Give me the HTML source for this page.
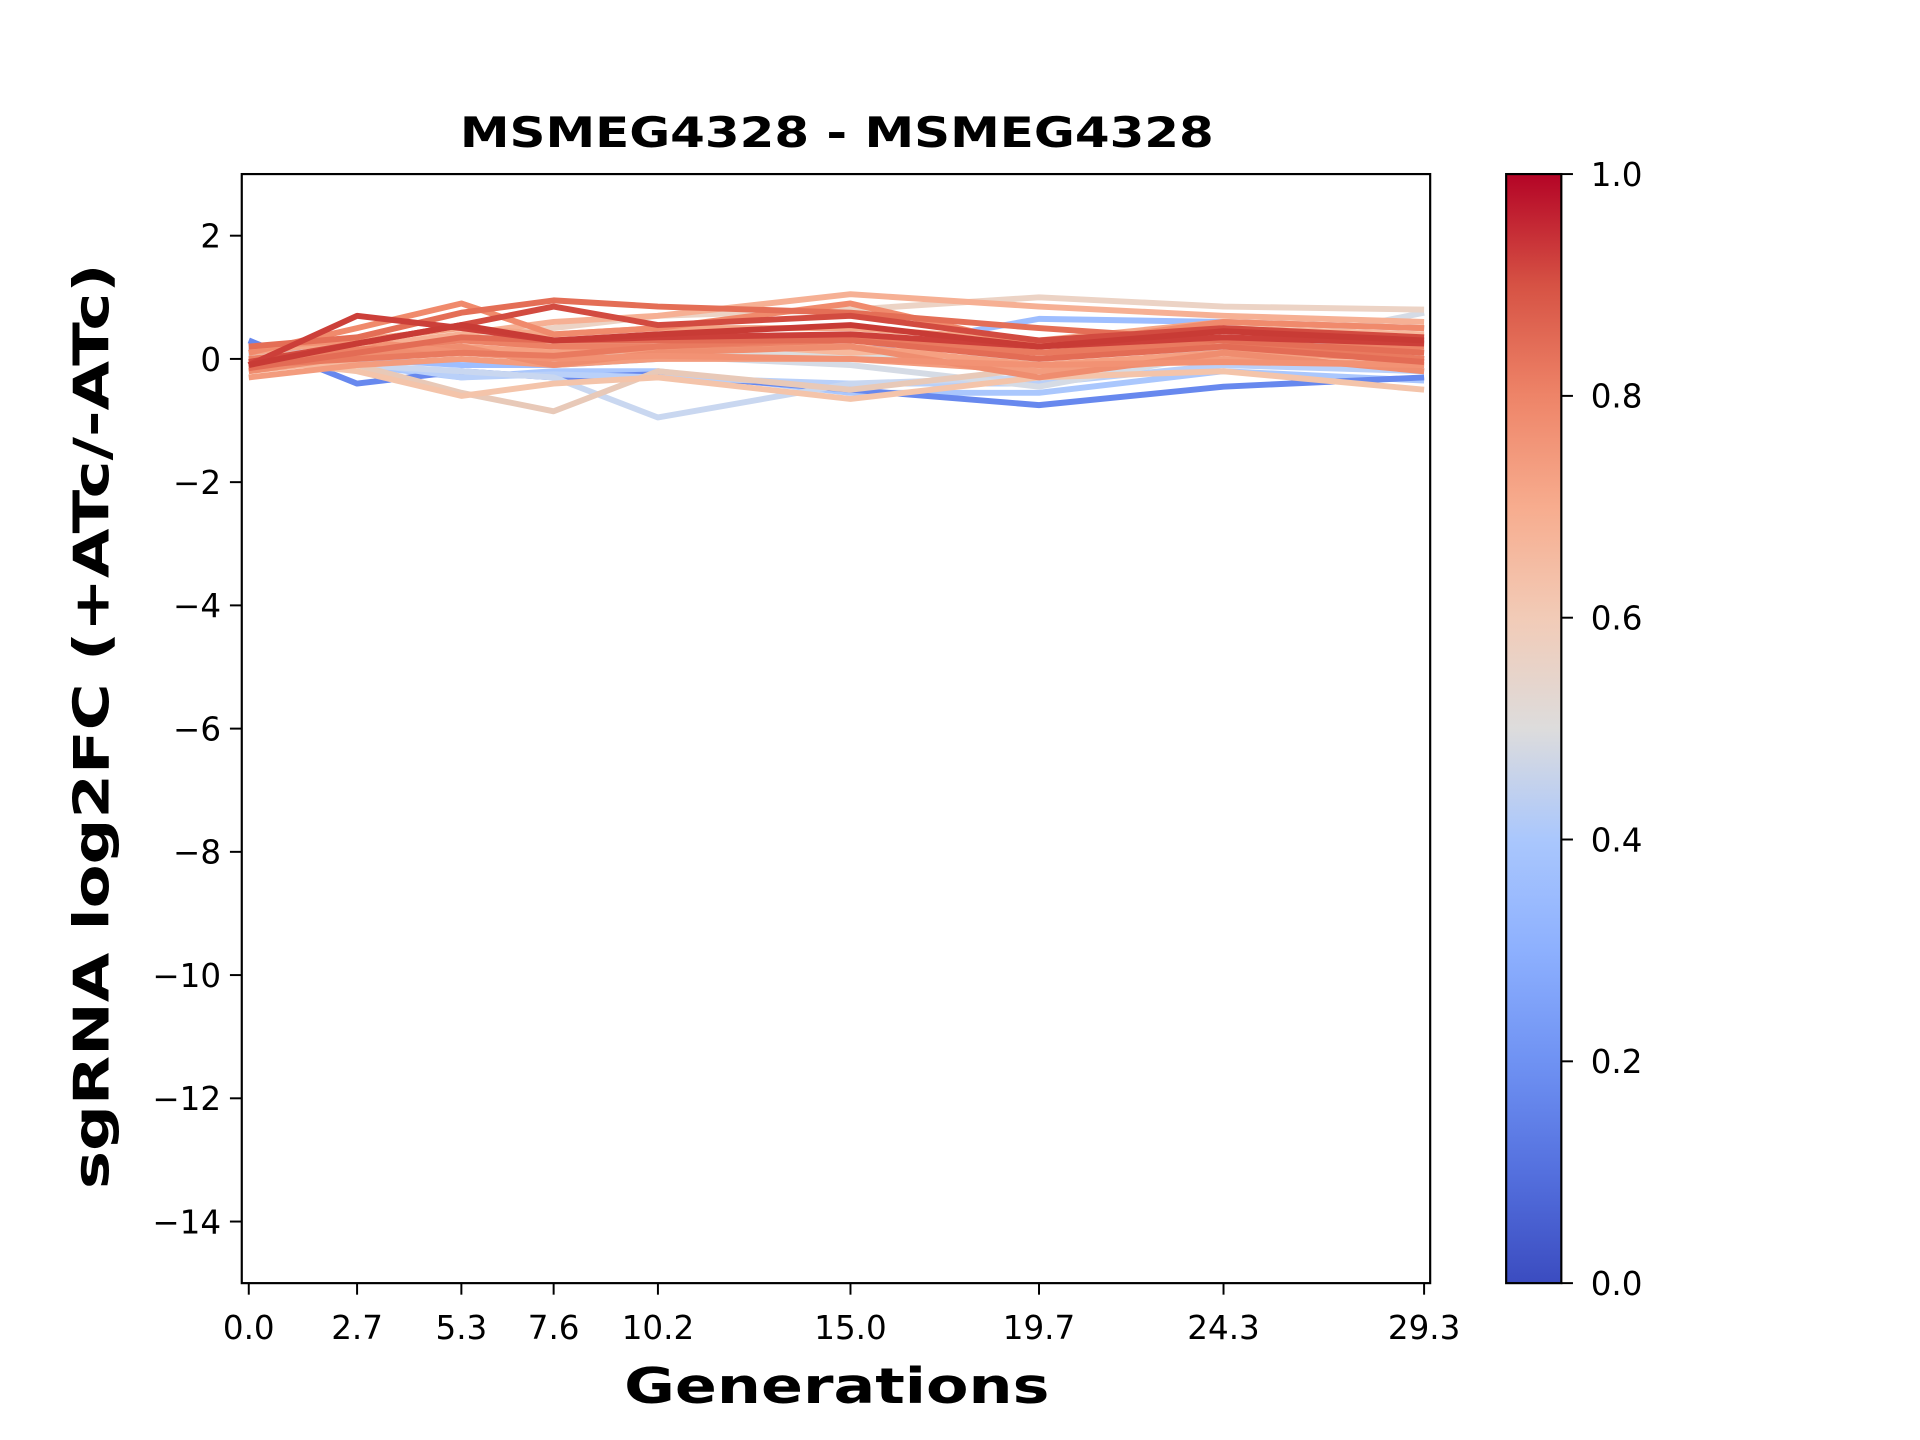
<!DOCTYPE html>
<html><head><meta charset="utf-8"><style>html,body{margin:0;padding:0;background:#fff}svg{display:block}</style></head>
<body>
<svg width="1920" height="1440" viewBox="0 0 1920 1440" xmlns="http://www.w3.org/2000/svg" font-family="'DejaVu Sans','Liberation Sans',sans-serif">
<defs>
<linearGradient id="cw" x1="0" y1="1" x2="0" y2="0">
<stop offset="0" stop-color="#3b4cc0"/><stop offset="0.1" stop-color="#5470de"/><stop offset="0.2" stop-color="#6f92f3"/><stop offset="0.3" stop-color="#8db0fe"/><stop offset="0.4" stop-color="#aac7fd"/><stop offset="0.5" stop-color="#dddcdc"/><stop offset="0.6" stop-color="#f2cbb7"/><stop offset="0.7" stop-color="#f7ac8e"/><stop offset="0.8" stop-color="#ee8468"/><stop offset="0.9" stop-color="#d65244"/><stop offset="1" stop-color="#b40426"/>
</linearGradient>
<clipPath id="ax"><rect x="245" y="176" width="1204" height="1124"/></clipPath>
</defs>
<g transform="scale(0.9868)">
<text x="848" y="149" font-size="42" font-weight="bold" text-anchor="middle" textLength="764" lengthAdjust="spacingAndGlyphs">MSMEG4328 - MSMEG4328</text>
<g id="lines" clip-path="url(#ax)" fill="none" stroke-width="6" stroke-linejoin="round"></g>
<rect x="245" y="176.4" width="1204.3" height="1123.9" fill="none" stroke="#000" stroke-width="2.2"/>
<g id="ticks" stroke="#000" stroke-width="2"></g>
<g id="labels" font-size="33"></g>
<text x="848" y="1422" font-size="50" font-weight="bold" text-anchor="middle" textLength="431" lengthAdjust="spacingAndGlyphs">Generations</text>
<text transform="translate(110,736) rotate(-90)" font-size="50" font-weight="bold" text-anchor="middle" textLength="938" lengthAdjust="spacingAndGlyphs">sgRNA log2FC (+ATc/-ATc)</text>
<rect x="1526.3" y="176.4" width="55.9" height="1123.9" fill="url(#cw)" stroke="#000" stroke-width="2.2"/>
</g>
</svg>
<script>
const ns="http://www.w3.org/2000/svg";
const X=[0,2.7,5.3,7.6,10.2,15,19.7,24.3,29.3];
const px=x=>252.1+x*40.65, py=y=>176.4+(3-y)*62.44;
const S=[
["#aac7fd",[0.1,-0.1,-0.3,-0.2,-0.2,-0.55,-0.55,-0.2,-0.35]],
["#6788ee",[0.3,-0.4,-0.2,-0.3,-0.25,-0.5,-0.75,-0.45,-0.3]],
["#9ebeff",[0.2,0,-0.1,-0.1,0,0.1,0.65,0.6,0.5]],
["#b9d0f9",[0.1,-0.05,-0.3,-0.25,-0.3,-0.4,-0.4,-0.1,-0.2]],
["#c9d7f0",[0,-0.1,-0.2,-0.3,-0.95,-0.4,-0.3,0.2,0.3]],
["#d5dbe5",[0.05,0,0.1,0,0.05,-0.1,-0.45,0.1,0.75]],
["#dcdddd",[0,0.1,0.15,0.1,0.1,0.05,0,0.2,0.1]],
["#e8c9b8",[0,-0.1,-0.55,-0.85,-0.2,-0.5,-0.15,0.1,0.3]],
["#f4c4aa",[0,-0.2,-0.6,-0.4,-0.3,-0.65,-0.3,-0.2,-0.5]],
["#ecd3c5",[0,0.1,0.3,0.5,0.7,0.8,1.0,0.85,0.8]],
["#f6b094",[0,0.2,0.4,0.6,0.7,1.05,0.85,0.7,0.6]],
["#f7b89c",[-0.2,0,0.1,0.2,0.3,0.1,0.2,0.5,0.4]],
["#f5a081",[-0.1,0.1,0.2,0.1,0.15,0.2,-0.1,0.1,0]],
["#f39c7e",[-0.3,-0.1,0,-0.1,0,0,-0.2,0,-0.1]],
["#f4a687",[0.1,0.3,0.5,0.4,0.5,0.5,0.3,0.6,0.5]],
["#f08a6c",[0.1,0.5,0.9,0.4,0.5,0.9,0.2,0.6,0.5]],
["#ef8d6f",[-0.2,0.05,0.2,-0.1,0.1,0.2,-0.3,0.1,-0.2]],
["#ec8165",[0,0.15,0.3,0.2,0.2,0.3,0.1,0.2,0.2]],
["#f29274",[0.2,0.3,0.1,0,0.05,0,-0.1,-0.05,-0.1]],
["#e97a5f",[-0.1,0,0.1,0.05,0.2,0.35,0.1,0.3,0]],
["#e46e56",[0.2,0.35,0.75,0.95,0.85,0.75,0.5,0.3,0.1]],
["#e36c55",[-0.15,0.1,0.35,0.3,0.3,0.3,0.0,0.2,-0.05]],
["#d24b40",[-0.05,0.25,0.55,0.85,0.55,0.7,0.3,0.5,0.35]],
["#cc3f39",[-0.1,0.7,0.5,0.3,0.35,0.4,0.2,0.35,0.25]],
["#c83b35",[-0.1,0.25,0.55,0.3,0.4,0.55,0.2,0.45,0.3]]];
const g=document.getElementById("lines");
for(const [c,v] of S){const p=document.createElementNS(ns,"polyline");p.setAttribute("points",X.map((x,i)=>px(x)+","+py(v[i])).join(" "));p.setAttribute("stroke",c);g.appendChild(p);}
const t=document.getElementById("ticks"),L=document.getElementById("labels");
function line(x1,y1,x2,y2){const l=document.createElementNS(ns,"line");l.setAttribute("x1",x1);l.setAttribute("y1",y1);l.setAttribute("x2",x2);l.setAttribute("y2",y2);t.appendChild(l);}
function txt(x,y,s,a){const e=document.createElementNS(ns,"text");e.setAttribute("x",x);e.setAttribute("y",y);e.setAttribute("text-anchor",a);e.textContent=s;L.appendChild(e);}
for(let v=2;v>=-14;v-=2){const y=py(v);line(245,y,233,y);txt(224,y+12,v<0?"\u2212"+(-v):""+v,"end");}
for(const x of X){line(px(x),1300.3,px(x),1312);txt(px(x),1357,x.toFixed(1),"middle");}
for(let i=0;i<=5;i++){const y=1300.3-i*224.78;line(1582.2,y,1594,y);txt(1612,y+12,(i/5).toFixed(1),"start");}
</script>
</body></html>
